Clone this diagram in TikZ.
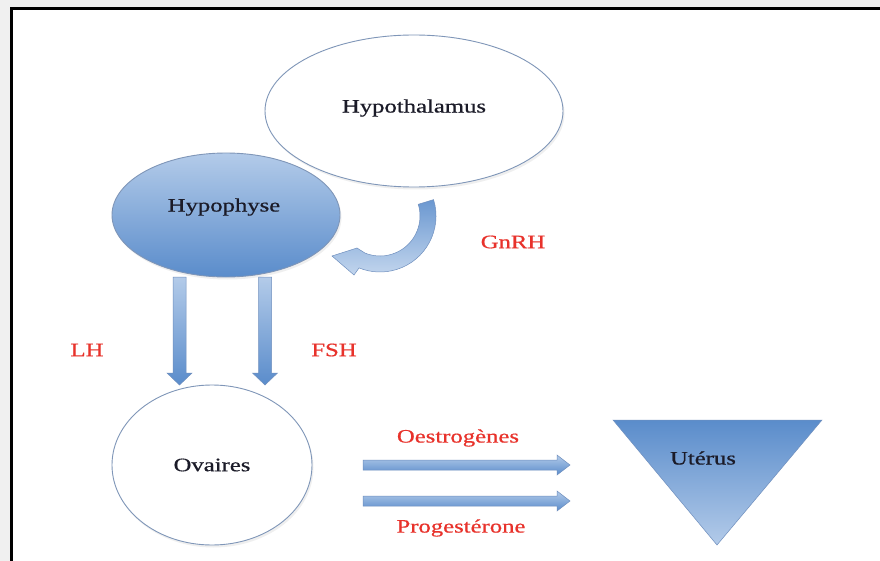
\documentclass[tikz,border=0pt]{standalone}
\usepackage{fontspec}
\usepackage{graphicx}
\setmainfont{Liberation Serif}
\usetikzlibrary{shapes.geometric,shadows,calc}
\definecolor{bgray}{HTML}{F0F0F0}
\definecolor{lblue}{HTML}{B3CBE9}
\definecolor{dblue}{HTML}{5A8CCB}
\definecolor{eborder}{HTML}{7F96B8}
\definecolor{aborder}{HTML}{6F8FBE}
\definecolor{lred}{HTML}{E8322B}
\definecolor{ink}{HTML}{1B1B28}
\newcommand\widetxt[1]{\scalebox{1.3}[1]{#1}}
\begin{document}
\begin{tikzpicture}[x=1pt,y=-1pt,
  txt/.style={font=\fontsize{19}{22}\selectfont\addfontfeatures{FakeBold=0.6}, text=ink, inner sep=0pt},
  lbl/.style={font=\fontsize{19}{22}\selectfont\addfontfeatures{FakeBold=0.6}, text=lred, inner sep=0pt},
  oval/.style={ellipse, draw=eborder, line width=0.9pt, inner sep=0pt,
    drop shadow={opacity=0.12, shadow xshift=1.5pt, shadow yshift=-2.5pt}},
  blockarrow/.style={draw=aborder, line width=0.5pt},
]
\useasboundingbox (0,0) rectangle (880,561);
\fill[bgray] (0,0) rectangle (880,561);
\fill[white] (12,9) rectangle (880,561);
\draw[line width=3pt] (11.5,561) -- (11.5,8.5) -- (880,8.5);

% Hypothalamus (behind)
\node[oval, fill=white, minimum width=298pt, minimum height=152pt] (hypot) at (414,111) {};
\node[txt] (hypotT) at (414,108) {\widetxt{Hypothalamus}};

% Hypophyse
\node[oval, top color=lblue, bottom color=dblue, minimum width=228pt, minimum height=124pt] (hypo) at (226,215) {};
\node[txt] (hypoT) at (224,207) {\widetxt{Hypophyse}};

% curved GnRH arrow
\coordinate (cc) at (380,216);
\path[blockarrow, top color=dblue!90, bottom color=lblue!80]
  ($(cc)+(-17:56)$) arc[start angle=-17, end angle=112, radius=56]
  -- (354,275) -- (332,256) -- (357,248)
  -- ($(cc)+(112:40)$) arc[start angle=112, end angle=-17, radius=40] -- cycle;
\node[lbl] (gnrh) at (513,242) {\widetxt{GnRH}};

% Ovaires
\node[oval, fill=white, minimum width=200pt, minimum height=160pt] (ova) at (212,465) {};
\node[txt] (ovaT) at (212,465) {\widetxt{Ovaires}};

% vertical arrows
\path[blockarrow, top color=lblue, bottom color=dblue]
  (173,277) -- (186,277) -- (186,373) -- (192,373) -- (179.5,385) -- (167,373) -- (173,373) -- cycle;
\path[blockarrow, top color=lblue, bottom color=dblue]
  (258.5,277) -- (271.5,277) -- (271.5,373) -- (277.5,373) -- (265,385) -- (252.5,373) -- (258.5,373) -- cycle;
\node[lbl] (lh) at (87,350) {\widetxt{LH}};
\node[lbl] (fsh) at (334,350) {\widetxt{FSH}};

% horizontal arrows
\path[blockarrow, top color=lblue, bottom color=dblue]
  (363,460) -- (557,460) -- (557,455) -- (570,465) -- (557,475) -- (557,470) -- (363,470) -- cycle;
\path[blockarrow, top color=lblue, bottom color=dblue]
  (363,496) -- (557,496) -- (557,491) -- (570,501) -- (557,511) -- (557,506) -- (363,506) -- cycle;
\node[lbl] (oes) at (458,438) {\widetxt{Oestrogènes}};
\node[lbl] (prog) at (461,528) {\widetxt{Progestérone}};

% Uterus triangle
\path[blockarrow, top color=dblue, bottom color=lblue]
  (613,420) -- (822,420) -- (717,545) -- cycle;
\node[txt] (ut) at (703,458) {\widetxt{Utérus}};
\end{tikzpicture}
\end{document}
